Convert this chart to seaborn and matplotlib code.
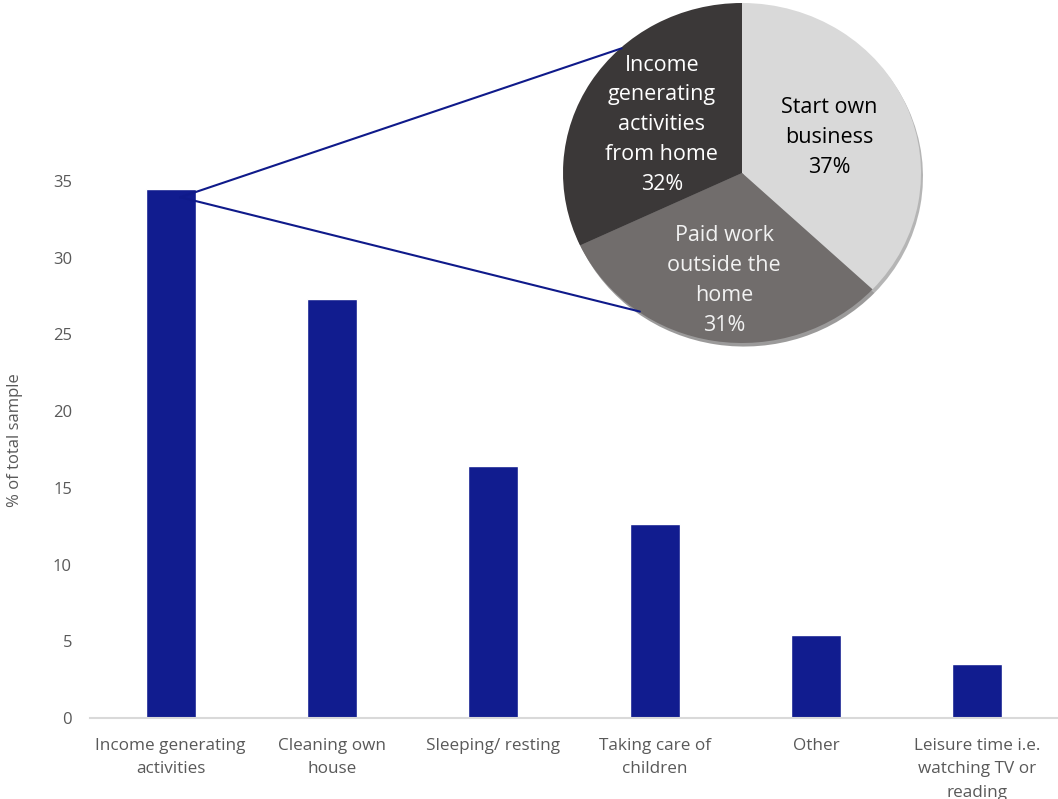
import matplotlib
matplotlib.use("Agg")
import matplotlib.pyplot as plt
import seaborn as sns
import numpy as np
import pandas as pd
from matplotlib.patches import ConnectionPatch

# ---- data ----
categories = ["Income generating\nactivities", "Cleaning own\nhouse", "Sleeping/ resting",
              "Taking care of\nchildren", "Other", "Leisure time i.e.\nwatching TV or\nreading"]
values = [34.5, 27.3, 16.4, 12.65, 5.4, 3.5]
yticks = [0, 5, 10, 15, 20, 25, 30, 35]

pie_labels = ["Start own\nbusiness", "Paid work\noutside the\nhome", "Income\ngenerating\nactivities\nfrom home"]
pie_values = [37, 31, 32]
pie_colors = ["#d9d9d9", "#716d6c", "#3b3838"]
pie_text_colors = ["#000000", "#f2f2f2", "#ffffff"]
pie_label_radius = [0.53, 0.64, 0.53]

sns.set_theme(style="white")
plt.rcParams["font.family"] = ["Open Sans", "DejaVu Sans"]

W, H = 1058, 799
fig = plt.figure(figsize=(W / 100, H / 100), dpi=100)

# bar axes
ax = fig.add_axes([90 / W, 1 - 718 / H, (1058 - 90) / W, 718 / H])
df = pd.DataFrame({"cat": categories, "val": values})
sns.barplot(data=df, x="cat", y="val", color="#111c8f", saturation=1, width=0.31, ax=ax)
ax.set_ylim(0, 718 / 15.34)
ax.set_yticks(yticks)
ax.set_yticklabels([str(t) for t in yticks], color="#595959", fontsize=12)
ax.tick_params(axis="y", length=0, pad=13)
ax.tick_params(axis="x", length=0, pad=14.5, labelsize=12.3, labelcolor="#595959")
for lab in ax.get_xticklabels():
    lab.set_linespacing(1.6)
ax.set_xlim(-0.5, len(categories) - 0.5)
ax.set_xlabel("")
ax.set_ylabel("% of total sample", color="#595959", fontsize=12)
ax.yaxis.set_label_coords((23 - 90) / 968, (718 - 440) / 718)
for s in ["top", "right", "left"]:
    ax.spines[s].set_visible(False)
ax.spines["bottom"].set_color("#d9d9d9")
ax.spines["bottom"].set_linewidth(1.5)

# pie axes
pl, pr, pt, pb = 563, 921, 3, 343
pax = fig.add_axes([pl / W, 1 - pb / H, (pr - pl) / W, (pb - pt) / H])
it = iter(pie_labels)
wedges, texts, autotexts = pax.pie(
    pie_values, colors=pie_colors, startangle=90, counterclock=False,
    autopct=lambda p: f"{next(it)}\n{p:.0f}%", pctdistance=0.56,
    shadow={"ox": 0.008, "oy": -0.015, "shade": 0.5},
    wedgeprops={"linewidth": 0},
    textprops={"fontsize": 15.5, "linespacing": 1.55},
)
for t, c, w, r in zip(autotexts, pie_text_colors, wedges, pie_label_radius):
    t.set_color(c)
    mid = np.deg2rad((w.theta1 + w.theta2) / 2)
    t.set_position((r * np.cos(mid), r * np.sin(mid)))
pax.set_aspect("auto")
pax.set_xlim(-1, 1)
pax.set_ylim(-1, 1)

# connector lines from first bar top to pie
line_color = "#0f1a8a"
x0 = 0.06
y0 = values[0] - 0.55
for ang in [132.5, 235.0]:
    a = np.deg2rad(ang)
    con = ConnectionPatch(xyA=(x0, y0), coordsA=ax.transData,
                          xyB=(0.995 * np.cos(a), 0.995 * np.sin(a)), coordsB=pax.transData,
                          color=line_color, linewidth=1.5)
    fig.add_artist(con)

fig.savefig("out.png", dpi=100)
